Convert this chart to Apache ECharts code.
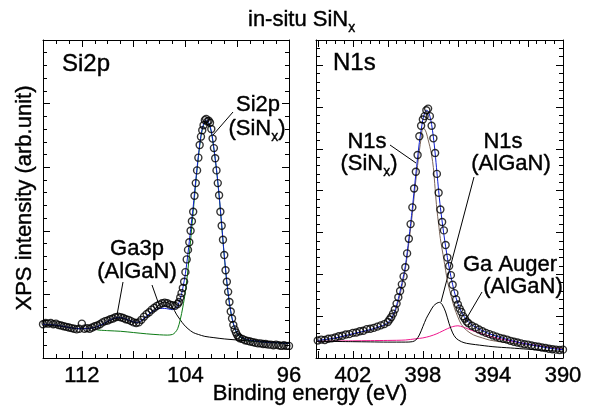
<!DOCTYPE html>
<html>
<head>
<meta charset="utf-8">
<script src="https://cdn.jsdelivr.net/npm/echarts@6/dist/echarts.min.js"></script>
<style>
  html, body { margin: 0; padding: 0; background: #fff; }
  #chart { width: 593px; height: 407px; }
</style>
</head>
<body>
<div id="chart"></div>
<script>
// ---- Si2p panel: [binding energy (eV), intensity (arb.)] ----
const si2pData = [
  [115.0,0.53],[114.8,0.55],[114.6,0.54],[114.4,0.55],[114.2,0.53],[114.0,0.54],[113.8,0.52],[113.6,0.51],
  [113.4,0.50],[113.2,0.49],[113.0,0.48],[112.8,0.47],[112.6,0.46],[112.4,0.45],[112.2,0.46],[112.0,0.54],
  [111.8,0.46],[111.6,0.47],[111.4,0.46],[111.2,0.48],[111.0,0.50],[110.8,0.51],[110.6,0.53],[110.4,0.56],
  [110.2,0.58],[110.0,0.59],[109.8,0.61],[109.6,0.62],[109.4,0.64],[109.2,0.65],[109.0,0.64],[108.8,0.63],
  [108.6,0.61],[108.4,0.60],[108.2,0.58],[108.0,0.56],[107.8,0.55],[107.6,0.56],[107.4,0.60],[107.2,0.65],
  [107.0,0.69],[106.8,0.72],[106.6,0.76],[106.4,0.79],[106.2,0.82],[106.0,0.84],[105.8,0.86],[105.6,0.87],
  [105.4,0.86],[105.2,0.84],[105.0,0.83],[104.8,0.82],[104.6,0.85],
  [104.5,0.88],[104.4,0.95],[104.3,1.02],[104.2,1.10],[104.1,1.20],[104.0,1.35],[103.9,1.55],[103.8,1.70],
  [103.7,1.82],[103.6,2.00],[103.5,2.15],[103.4,2.30],[103.3,2.55],[103.2,2.75],[103.1,2.95],[103.0,3.15],
  [102.9,3.35],[102.8,3.48],[102.7,3.58],[102.6,3.66],[102.5,3.74],[102.4,3.76],[102.3,3.72],[102.2,3.73],
  [102.1,3.70],[102.0,3.60],[101.9,3.45],[101.8,3.30],[101.7,3.14],[101.6,2.95],[101.5,2.75],[101.4,2.56],
  [101.3,2.30],[101.2,2.08],[101.1,1.86],[101.0,1.62],[100.9,1.38],[100.8,1.20],[100.7,1.04],[100.6,0.88],
  [100.5,0.73],[100.4,0.62],[100.3,0.52],[100.2,0.45],[100.1,0.40],[100.0,0.36],[99.9,0.33],[99.8,0.31],
  [99.6,0.30],[99.4,0.28],[99.2,0.27],[99.0,0.26],[98.8,0.25],[98.6,0.24],[98.4,0.23],[98.2,0.23],
  [98.0,0.22],[97.8,0.22],[97.6,0.21],[97.4,0.21],[97.2,0.20],[97.0,0.21],[96.8,0.20],[96.6,0.19],
  [96.4,0.20],[96.2,0.19],[96.0,0.19]
];
const ga3pFit = [
  [115.0,0.52],[114.0,0.51],[113.0,0.48],[112.2,0.46],[111.5,0.465],[111.0,0.48],[110.5,0.52],[110.0,0.57],
  [109.6,0.61],[109.2,0.63],[108.8,0.62],[108.4,0.59],[108.0,0.56],[107.7,0.55],[107.4,0.58],[107.0,0.65],
  [106.6,0.73],[106.2,0.80],[105.9,0.86],[105.6,0.88],[105.3,0.86],[105.0,0.80],[104.7,0.69],[104.4,0.60],
  [104.1,0.52],[103.8,0.46],[103.4,0.40],[103.0,0.37],[102.5,0.34],[101.8,0.32],[101.0,0.30],[99.8,0.28],
  [98.8,0.265],[97.7,0.255],[96.0,0.23]
];
const si2pFit = [
  [110.8,0.44],[110.0,0.43],[109.0,0.42],[108.0,0.40],[107.0,0.38],[106.0,0.365],[105.4,0.36],[105.0,0.37],
  [104.8,0.40],[104.6,0.46],[104.4,0.60],[104.2,0.80],[104.0,1.05],[103.8,1.40],[103.6,1.85],[103.4,2.30],
  [103.2,2.75],[103.0,3.15],[102.8,3.48],[102.6,3.66],[102.4,3.72],[102.2,3.68],[102.0,3.55],[101.8,3.28],
  [101.6,2.95],[101.4,2.55],[101.2,2.08],[101.0,1.60],[100.8,1.18],[100.6,0.85],[100.4,0.62],[100.2,0.47],
  [100.0,0.38],[99.8,0.33],[99.4,0.29],[99.0,0.27],[98.0,0.25],[97.0,0.24],[96.0,0.23]
];
const si2pTotal = [
  [115.0,0.53],[114.0,0.52],[113.0,0.48],[112.2,0.46],[111.5,0.465],[111.0,0.48],[110.5,0.52],[110.0,0.58],
  [109.6,0.62],[109.2,0.64],[108.8,0.63],[108.4,0.60],[108.0,0.57],[107.7,0.56],[107.4,0.59],[107.0,0.66],
  [106.6,0.72],[106.2,0.77],[105.9,0.78],[105.6,0.78],[105.3,0.77],[105.0,0.76],[104.8,0.78],[104.6,0.82],
  [104.4,0.93],[104.2,1.10],[104.0,1.33],[103.8,1.65],[103.6,2.02],[103.4,2.38],[103.2,2.80],[103.0,3.18],
  [102.8,3.50],[102.6,3.68],[102.4,3.74],[102.2,3.70],[102.0,3.57],[101.8,3.30],[101.6,2.97],[101.4,2.57],
  [101.2,2.10],[101.0,1.62],[100.8,1.20],[100.6,0.87],[100.4,0.63],[100.2,0.48],[100.0,0.39],[99.8,0.34],
  [99.4,0.30],[99.0,0.28],[98.0,0.25],[97.0,0.24],[96.0,0.23]
];

// ---- N1s panel ----
const n1sData = [
  [404.0,0.42],[403.8,0.44],[403.6,0.43],[403.4,0.46],[403.2,0.47],[403.0,0.49],[402.8,0.52],[402.6,0.53],
  [402.4,0.56],[402.2,0.57],[402.0,0.60],[401.8,0.61],[401.6,0.64],[401.4,0.65],[401.2,0.69],[401.0,0.70],
  [400.8,0.72],[400.6,0.75],[400.4,0.78],[400.2,0.81],[400.0,0.86],
  [399.9,0.92],[399.8,0.98],[399.7,1.06],[399.6,1.16],[399.5,1.30],[399.4,1.45],[399.3,1.60],[399.2,1.76],
  [399.1,1.95],[399.0,2.17],[398.9,2.50],[398.8,2.85],[398.7,3.20],[398.6,3.60],[398.5,4.05],[398.4,4.45],
  [398.3,4.85],[398.2,5.30],[398.1,5.55],[398.0,5.70],[397.9,5.78],[397.8,5.92],[397.7,5.96],[397.6,5.78],
  [397.5,5.55],[397.4,5.25],[397.3,4.90],[397.2,4.40],[397.1,3.95],[397.0,3.55],[396.9,3.25],[396.8,3.05],
  [396.7,2.70],[396.6,2.40],[396.5,2.20],[396.4,1.98],[396.3,1.75],[396.2,1.55],[396.1,1.40],[396.0,1.28],
  [395.9,1.18],[395.8,1.10],[395.7,1.00],[395.6,0.94],[395.5,0.87],[395.4,0.83],
  [395.2,0.77],[395.0,0.73],[394.8,0.68],[394.6,0.64],[394.4,0.60],[394.2,0.57],[394.0,0.54],[393.8,0.51],
  [393.6,0.48],[393.4,0.46],[393.2,0.44],[393.0,0.41],[392.8,0.39],[392.6,0.37],[392.4,0.35],[392.2,0.33],
  [392.0,0.32],[391.8,0.30],[391.6,0.28],[391.4,0.27],[391.2,0.25],[391.0,0.24],[390.8,0.22],[390.6,0.21],
  [390.4,0.20],[390.2,0.19],[390.0,0.20]
];
const gaAugerFit = [
  [404.0,0.40],[403.0,0.405],[402.0,0.41],[401.0,0.415],[400.0,0.42],[399.0,0.43],[398.4,0.46],[398.0,0.48],
  [397.6,0.52],[397.2,0.58],[396.9,0.64],[396.6,0.70],[396.3,0.75],[396.0,0.77],[395.7,0.74],[395.4,0.69],
  [395.0,0.63],[394.5,0.56],[394.0,0.50],[393.5,0.45],[393.0,0.41],[392.5,0.37],[392.0,0.33],[391.5,0.30],
  [391.0,0.27],[390.5,0.24],[390.0,0.22]
];
const n1sAlGaNFit = [
  [404.0,0.40],[402.0,0.39],[401.0,0.385],[400.0,0.38],[399.0,0.38],[398.6,0.39],[398.4,0.43],[398.2,0.55],
  [398.0,0.75],[397.8,0.95],[397.6,1.10],[397.4,1.24],[397.2,1.31],[397.05,1.33],[396.9,1.28],[396.7,1.10],
  [396.5,0.82],[396.3,0.60],[396.1,0.47],[395.8,0.39],[395.5,0.35],[395.0,0.32],[394.0,0.27],[393.0,0.24],
  [392.0,0.21],[391.0,0.18],[390.0,0.16]
];
const n1sSiNxFit = [
  [404.0,0.41],[403.0,0.47],[402.0,0.57],[401.0,0.67],[400.4,0.75],[400.0,0.82],[399.8,0.92],[399.6,1.08],
  [399.4,1.35],[399.2,1.70],[399.0,2.12],[398.8,2.75],[398.6,3.45],[398.4,4.25],[398.2,4.95],[398.1,5.25],
  [398.0,5.50],[397.9,5.47],[397.8,5.38],[397.7,5.22],[397.6,5.05],[397.5,4.85],[397.4,4.55],[397.3,4.05],
  [397.2,3.55],[397.1,3.20],[397.0,2.85],[396.8,2.35],[396.6,1.85],[396.4,1.50],[396.2,1.20],[396.0,0.98],
  [395.8,0.80],[395.5,0.66],[395.1,0.55],[394.6,0.48],[394.2,0.43],[393.5,0.38],[392.8,0.35],[392.0,0.31],
  [391.3,0.28],[390.5,0.25],[390.0,0.23]
];
const n1sTotal = [
  [404.0,0.42],[403.0,0.48],[402.0,0.58],[401.0,0.68],[400.4,0.76],[400.0,0.84],[399.8,0.95],[399.6,1.12],
  [399.4,1.42],[399.2,1.78],[399.0,2.20],[398.8,2.85],[398.6,3.58],[398.4,4.40],[398.2,5.15],[398.0,5.70],
  [397.9,5.85],[397.8,5.92],[397.7,5.90],[397.6,5.78],[397.5,5.58],[397.4,5.28],[397.3,4.90],[397.2,4.45],
  [397.1,4.00],[397.0,3.60],[396.8,2.95],[396.6,2.40],[396.4,1.95],[396.2,1.58],[396.0,1.30],[395.8,1.10],
  [395.6,0.96],[395.4,0.86],[395.2,0.79],[395.0,0.74],[394.6,0.65],[394.2,0.58],[393.8,0.52],[393.4,0.47],
  [393.0,0.42],[392.5,0.37],[392.0,0.33],[391.5,0.29],[391.0,0.25],[390.5,0.22],[390.0,0.20]
];

// tick labels shown on the energy axes
const si2pTickLabels = [112, 104, 96];
const n1sTickLabels = [402, 398, 394, 390];

const FONT = '"Liberation Sans", Arial, Helvetica, sans-serif';

function makeAxes(dim, gridIndex, min, max, minor, major, inverse, labels) {
  const positions = dim === 'x' ? ['bottom', 'top'] : ['left', 'right'];
  const tickStyle = { color: '#000', width: 1 };
  const axes = [];
  positions.forEach((pos, p) => {
    const base = {
      type: 'value', gridIndex, min, max, inverse, position: pos,
      splitLine: { show: false }, axisLabel: { show: false }
    };
    axes.push(Object.assign({}, base, {
      interval: minor,
      axisLine: { show: true, onZero: false, lineStyle: tickStyle },
      axisTick: { inside: true, length: 4, lineStyle: tickStyle }
    }));
    const majorAxis = Object.assign({}, base, {
      interval: major,
      axisLine: { show: false, onZero: false },
      axisTick: { inside: true, length: 7, lineStyle: tickStyle }
    });
    if (labels && p === 0) {
      majorAxis.axisLabel = {
        show: true, margin: 7, color: '#000', fontSize: 22, fontFamily: FONT,
        textBorderColor: '#000', textBorderWidth: 0.4,
        formatter: v => labels.some(l => Math.abs(l - v) < 1e-6) ? String(Math.round(v)) : ''
      };
    }
    axes.push(majorAxis);
  });
  return axes;
}

// text with optional subscript pieces, drawn as graphic elements
const measureCtx = document.createElement('canvas').getContext('2d');
function textRun(pieces, x, baseline, size, align) {
  const subSize = Math.round(size * 0.64);
  const widths = pieces.map(pc => {
    measureCtx.font = (pc.sub ? subSize : size) + 'px ' + FONT;
    return measureCtx.measureText(pc.t).width;
  });
  const total = widths.reduce((a, b) => a + b, 0);
  let cx = align === 'center' ? x - total / 2 : x;
  const els = [];
  pieces.forEach((pc, i) => {
    const s = pc.sub ? subSize : size;
    const bl = pc.sub ? baseline + 5 : baseline;
    els.push({
      type: 'text', x: cx, y: bl - 0.35 * s, silent: true,
      style: {
        text: pc.t, font: s + 'px ' + FONT, fill: '#000', stroke: '#000', lineWidth: 0.4,
        align: 'left', verticalAlign: 'middle'
      }
    });
    cx += widths[i];
  });
  return els;
}
function leader(x1, y1, x2, y2) {
  return { type: 'line', silent: true, shape: { x1, y1, x2, y2 }, style: { stroke: '#000', lineWidth: 1 } };
}

const xAxes = [].concat(
  makeAxes('x', 0, 96, 115, 1, 4, true, si2pTickLabels),
  makeAxes('x', 1, 390, 404.1, 0.5, 2, true, n1sTickLabels)
);
const yAxes = [].concat(
  makeAxes('y', 0, 0, 5, 0.2, 1, false, null),
  makeAxes('y', 1, 0, 7.6, 0.2, 1, false, null)
);

function fitLine(data, color, xi) {
  return {
    type: 'line', data, xAxisIndex: xi, yAxisIndex: xi, showSymbol: false, symbol: 'none',
    smooth: 0.3, lineStyle: { color, width: 1 }, itemStyle: { color }, z: 2, silent: true
  };
}
function points(data, xi) {
  return {
    type: 'scatter', data, xAxisIndex: xi, yAxisIndex: xi, symbol: 'circle', symbolSize: 7,
    itemStyle: { color: 'rgba(255,255,255,0)', borderColor: '#000', borderWidth: 1.4 }, z: 3, silent: true
  };
}

const graphics = [].concat(
  textRun([{ t: 'in-situ SiN' }, { t: 'x', sub: true }], 248, 28, 22, 'left'),
  textRun([{ t: 'Si2p' }], 62, 73, 24, 'left'),
  textRun([{ t: 'N1s' }], 333, 72, 24, 'left'),
  textRun([{ t: 'Si2p' }], 258, 113, 22, 'center'),
  textRun([{ t: '(SiN' }, { t: 'x', sub: true }, { t: ')' }], 257, 137, 22, 'center'),
  textRun([{ t: 'Ga3p' }], 137, 257, 22, 'center'),
  textRun([{ t: '(AlGaN)' }], 137, 280, 22, 'center'),
  textRun([{ t: 'N1s' }], 367, 150, 22, 'center'),
  textRun([{ t: '(SiN' }, { t: 'x', sub: true }, { t: ')' }], 369, 172, 22, 'center'),
  textRun([{ t: 'N1s' }], 503, 150, 22, 'center'),
  textRun([{ t: '(AlGaN)' }], 511, 172, 22, 'center'),
  textRun([{ t: 'Ga Auger' }], 510, 273, 22, 'center'),
  textRun([{ t: '(AlGaN)' }], 523, 295, 22, 'center'),
  textRun([{ t: 'Binding energy (eV)' }], 310, 402, 22, 'center'),
  [
    {
      type: 'text', x: 25, y: 198, rotation: Math.PI / 2, silent: true,
      style: {
        text: 'XPS intensity (arb.unit)', font: '22px ' + FONT, fill: '#000', stroke: '#000', lineWidth: 0.4,
        align: 'center', verticalAlign: 'middle'
      }
    },
    leader(233, 112, 213, 135),
    leader(123, 282, 117, 315),
    leader(152, 285, 158, 302),
    leader(390, 145, 416, 163),
    leader(474, 177, 441, 302),
    leader(482, 292, 465, 321)
  ]
);

const chart = echarts.init(document.getElementById('chart'), null, { renderer: 'canvas' });
chart.setOption({
  animation: false,
  backgroundColor: '#fff',
  grid: [
    { left: 43, top: 40, width: 246, height: 318 },
    { left: 316, top: 40, width: 247, height: 318 }
  ],
  xAxis: xAxes,
  yAxis: yAxes,
  series: [
    fitLine(ga3pFit, '#000', 0),
    fitLine(si2pFit, '#0b7a14', 0),
    fitLine(si2pTotal, '#1020d0', 0),
    points(si2pData, 0),
    fitLine(gaAugerFit, '#f0158c', 4),
    fitLine(n1sAlGaNFit, '#000', 4),
    fitLine(n1sSiNxFit, '#7a6458', 4),
    fitLine(n1sTotal, '#1020d0', 4),
    points(n1sData, 4)
  ],
  graphic: graphics
});
</script>
</body>
</html>
